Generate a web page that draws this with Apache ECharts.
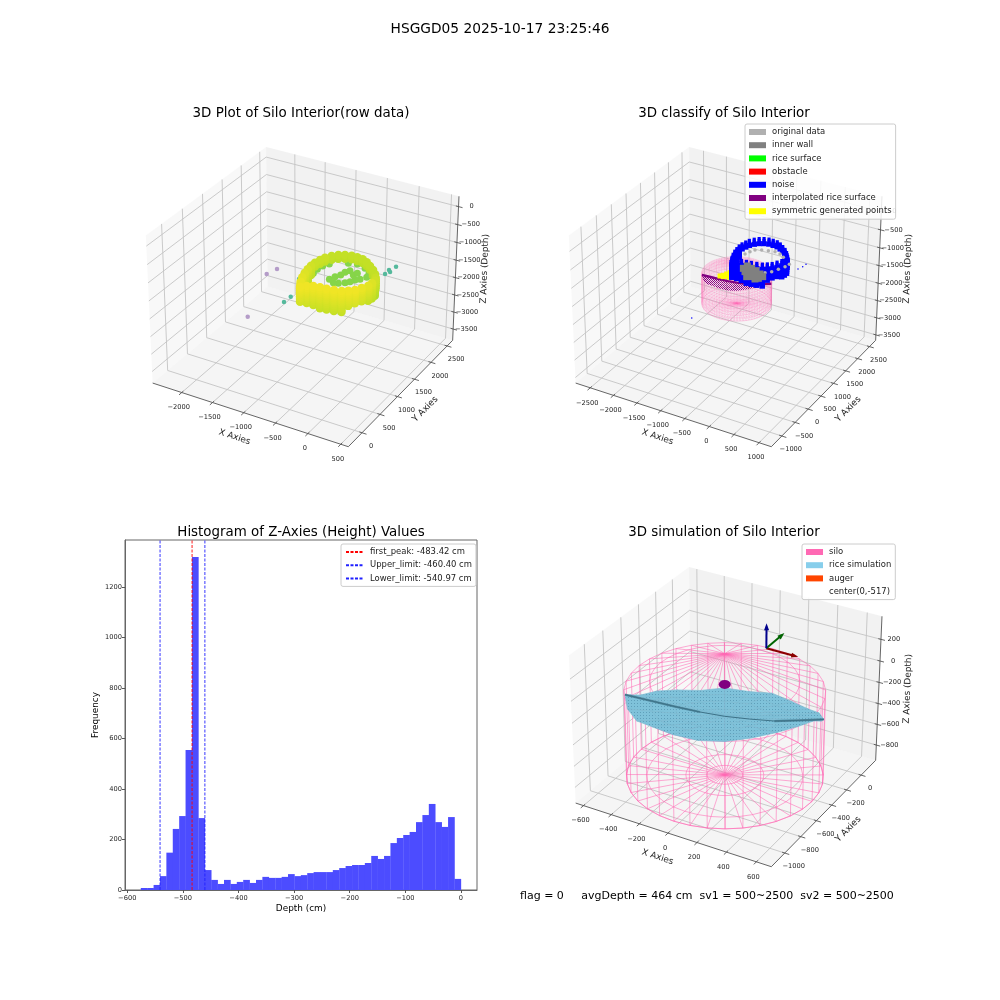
<!DOCTYPE html>
<html>
<head>
<meta charset="utf-8">
<style>html,body{margin:0;padding:0;background:#fff}#chart{width:1000px;height:1000px}</style>
<script src="https://cdn.jsdelivr.net/npm/echarts@6/dist/echarts.min.js"></script>
</head>
<body>
<div id="chart"></div>
<script>
// histogram values
const binCenters = [-569.6,-558.1,-546.6,-535.1,-523.6,-512.1,-500.6,-489.1,-477.6,-466.0,-454.5,-443.0,-431.5,-420.0,-408.5,-397.0,-385.5,-374.0,-362.5,-351.0,-339.5,-327.9,-316.4,-304.9,-293.4,-281.9,-270.4,-258.9,-247.4,-235.9,-224.4,-212.9,-201.4,-189.8,-178.3,-166.8,-155.3,-143.8,-132.3,-120.8,-109.3,-97.8,-86.3,-74.8,-63.3,-51.8,-40.2,-28.7,-17.2,-5.7];
const binCounts = [8,8,20,55,148,242,293,555,1320,285,79,40,24,40,24,32,40,28,40,52,48,48,52,63,55,59,67,71,71,71,79,87,95,99,99,107,135,123,135,186,206,218,230,269,297,341,269,250,289,44];
const histXTicks = [-600,-500,-400,-300,-200,-100,0];
const histYTicks = [0,200,400,600,800,1000,1200];
const firstPeak = -483.42, upperLimit = -460.40, lowerLimit = -540.97;

// axis limits and ticks of the three 3D plots
const rawLimits = [[-2480,614],[-370,2675],[-3836,284]];
const rawXTicks = [-2000,-1500,-1000,-500,0,500];
const rawYTicks = [0,500,1000,1500,2000,2500];
const rawZTicks = [0,-500,-1000,-1500,-2000,-2500,-3000,-3500];
const classLimits = [[-2817,1243],[-1386,2766],[-3660,420]];
const classXTicks = [-2500,-2000,-1500,-1000,-500,0,500,1000];
const classYTicks = [-1000,-500,0,500,1000,1500,2000,2500];
const classZTicks = [0,-500,-1000,-1500,-2000,-2500,-3000,-3500];
const simLimits = [[-657,699],[-1163,205],[-950,410]];
const simXTicks = [-600,-400,-200,0,200,400,600];
const simYTicks = [-1000,-800,-600,-400,-200,0];
const simZTicks = [200,0,-200,-400,-600,-800];

// raw scan: rim of the grain ring (x, y), how deep its wall goes, colour position
const rimX = [-168,-226,-264,-294,-309,-320,-315,-293,-268,-214,-151,-75,10,96,183,267,351,436,512,561,591,590,578,533,483,418,348,251,153,62,-29,-103];
const rimY = [-285,-171,-64,48,149,254,348,442,528,610,677,720,748,745,733,689,625,553,466,395,323,244,168,74,-12,-68,-118,-144,-161,-173,-186,-228];
const rimDepth = [-400,-500,-550,-600,-650,-250,-100,-100,-100,-100,-100,-100,-100,-100,-100,-100,-100,-150,-200,-300,-400,-400,-400,-350,-350,-400,-550,-550,-550,-550,-500,-450];
const rimTone = [.98,.97,.96,.95,.94,.93,.92,.92,.92,.91,.91,.91,.91,.91,.91,.91,.91,.91,.91,.92,.93,.95,.96,.97,.98,.98,.98,.98,.98,.98,.98,.98];
const wallLevels = [-650,-600,-550,-500,-450,-400,-350,-300,-250,-200,-150,-100,-50,0];
const floorX = [-341,-348,-332,-282,-72,40,184,293,317,267,219,183,140,73,8,-80,-51,-8,7,42,136,160];
const floorY = [351,468,580,669,809,852,801,711,604,515,467,398,343,285,268,318,415,489,578,649,571,635];
const floorZ = -300;
const strayX = [-857,-1224,-1174,-640,-633,-776,164,159,197,199];
const strayY = [-456,619,805,99,260,718,1408,1530,1489,1657];
const strayZ = -1000;
const strayPurple = [1,1,1,0,0,0,0,0,0,0];

// classified scan
const noiseX = [-450,321,354,364], noiseY = [-1195,1289,1408,1518], noiseZ = -1000;
const wallX = [-215,-196,-88,19,137,224,187,83,-39,-131,-55,62,-106,141,148,-18];
const wallY = [218,329,293,257,187,127,36,44,83,127,172,143,240,120,-15,-16];
const greenX = [-203,-123,-32,78,165,231,-207,38];
const greenY = [15,-8,-52,-70,-46,-8,82,-94];
const yellowX = [-433,-395,-368,-341,-298,-242,-268,-322,-371,-220,-268];
const yellowY = [-233,-183,-111,-39,28,-36,-108,-168,-224,-135,-192];
const scanLayerZ = -500;
const greyBackX = [-314,-280,-233,-131,-16,104,221,330];
const greyBackY = [456,577,677,737,776,803,772,693];
const greyBackZ = -300;
const greyFrontX = [101,190,274,335,391,417];
const greyFrontY = [194,275,366,501,647,761];

// silo and simulated grain surface
const siloCenterY = -517, siloRadius = 606;
const siloBottom = -860, siloEave = -60, siloApex = 270;
const classSiloX = 60, simSiloX = 18;
const siloAngles = [0,10,20,30,40,50,60,70,80,90,100,110,120,130,140,150,160,170,180,190,200,210,220,230,240,250,260,270,280,290,300,310,320,330,340,350];
const riceAngles = [0,15,30,45,60,75,90,105,120,135,150,165,180,195,210,225,240,255,270,285,300,315,330,345];
const riceRadii = [150,300,450,600];
const riceCenterZ = -300;
const riceZ150 = [-269,-285,-300,-330,-345,-352,-348,-352,-350,-347,-340,-325,-310,-285,-266,-270,-270,-262,-258,-262,-258,-255,-255,-262];
const riceZ300 = [-218,-262,-300,-345,-380,-392,-382,-398,-390,-385,-370,-340,-310,-262,-213,-220,-220,-205,-198,-205,-198,-192,-192,-205];
const riceZ450 = [-166,-240,-305,-375,-425,-445,-432,-455,-440,-435,-415,-370,-315,-240,-160,-170,-170,-140,-130,-140,-130,-120,-120,-140];
const riceZ600 = [-115,-225,-332,-392,-465,-490,-480,-510,-490,-500,-450,-390,-335,-225,-106,-118,-116,-72,-68,-72,-65,-48,-46,-68];
const creaseX = [-520,-390,-260,-130,0,130,260,390,520];
const creaseY = [-817,-742,-667,-592,-517,-442,-367,-292,-217];
const creaseZ = [-106,-160,-215,-265,-305,-330,-348,-342,-332];
const augerPoint = [18,-517,-10];
const arrowOrigin = [18,0,0], arrowLength = 200;

const PINK = '#ff69b4', FONT = '"DejaVu Sans", sans-serif';

// matplotlib's camera for elev 30, azim -60 and its 4:4:3 box
const BOX = [1.1429,1.1429,0.8572], CAM_U = [.866025,.5,0], CAM_N = [.433013,-.75,.5], CAM_V = [-.25,.433013,.866025];
function project(lim, p) {
  const q = [0,1,2].map(i => ((p[i]-lim[i][0])/(lim[i][1]-lim[i][0])-.5)*BOX[i]);
  const dot = a => a[0]*q[0]+a[1]*q[1]+a[2]*q[2];
  const w = 10-dot(CAM_N);
  return [dot(CAM_U)/w, dot(CAM_V)/w];
}

const option = {
  animation: false,
  backgroundColor: '#fff',
  title: [
    ['HSGGD05 2025-10-17 23:25:46',500,22,13.75],
    ['3D Plot of Silo Interior(row data)',301,107,13.45],
    ['3D classify of Silo Interior',724,107,13.45],
    ['Histogram of Z-Axies (Height) Values',301,526,13.4],
    ['3D simulation of Silo Interior',724,526,13.4]
  ].map(t => ({text:t[0],left:t[1],top:t[2],textAlign:'center',padding:0,
    textStyle:{fontFamily:FONT,fontSize:t[3],fontWeight:'normal',color:'#000'}})),
  grid: [
    {left:125,top:120,width:352,height:350},
    {left:548,top:120,width:352,height:350},
    {left:125,top:540,width:352,height:350,show:true,borderColor:'#666',borderWidth:1},
    {left:548,top:540,width:352,height:350}
  ],
  xAxis: [0,1,3].map(g => ({type:'value',gridIndex:g,min:-.0919,max:.0875,show:false})),
  yAxis: [0,1,3].map(g => ({type:'value',gridIndex:g,min:-.0917,max:.0866,show:false})),
  series: [],
  legend: [],
  graphic: [{type:'text',left:520,top:891,silent:true,
    style:{text:'flag = 0     avgDepth = 464 cm  sv1 = 500~2500  sv2 = 500~2500',fontFamily:FONT,fontSize:11,fill:'#000'}}]
};

// histogram axes come after the three hidden pairs
option.xAxis.push({type:'value',gridIndex:2,min:-604,max:28.8,name:'Depth (cm)',nameLocation:'middle',nameGap:14,
  nameTextStyle:{fontFamily:FONT,fontSize:8.9,color:'#000'},
  axisLine:{onZero:false,lineStyle:{color:'#666'}},splitLine:{show:false},
  axisTick:{length:3,lineStyle:{color:'#555'},customValues:histXTicks},
  axisLabel:{fontFamily:FONT,fontSize:6.67,color:'#222',margin:5,customValues:histXTicks,formatter:v=>String(v).replace('-','\u2212')}});
option.yAxis.push({type:'value',gridIndex:2,min:0,max:1387,name:'Frequency',nameLocation:'middle',nameGap:25,
  nameTextStyle:{fontFamily:FONT,fontSize:8.9,color:'#000'},
  axisLine:{onZero:false,lineStyle:{color:'#666'}},splitLine:{show:false},
  axisTick:{length:3,lineStyle:{color:'#555'},customValues:histYTicks},
  axisLabel:{fontFamily:FONT,fontSize:6.67,color:'#222',margin:3,customValues:histYTicks,formatter:v=>String(v)}});
option.series.push({type:'bar',name:'counts',xAxisIndex:3,yAxisIndex:3,barWidth:6.7,
  itemStyle:{color:'#4c4cff'},silent:true,data:binCenters.map((x,i)=>[x,binCounts[i]])});
[['first_peak: -483.42 cm',firstPeak,'#ff0000'],['Upper_limit: -460.40 cm',upperLimit,'#2020ff'],['Lower_limit: -540.97 cm',lowerLimit,'#2020ff']].forEach(l => {
  option.series.push({type:'line',name:l[0],xAxisIndex:3,yAxisIndex:3,symbol:'none',silent:true,z:5,
    itemStyle:{color:l[2]},lineStyle:{color:l[2],width:.9,type:[3,1.5]},data:[[l[1],0],[l[1],1387]]});
});

// custom series drawing polylines that were projected from data space
function wireSeries(name, ai, wires, stroke, width, z, opacity) {
  return {type:'custom',name,xAxisIndex:ai,yAxisIndex:ai,coordinateSystem:'cartesian2d',clip:false,silent:true,z:z||2,
    itemStyle:{color:stroke},
    data:wires.map((w,i)=>[w[0][0],w[0][1],i]),
    renderItem:(p,api)=>({type:'polyline',silent:true,
      shape:{points:wires[api.value(2)].map(q=>api.coord(q))},
      style:{stroke,lineWidth:width,fill:null,opacity:opacity==null?1:opacity}})};
}
function polySeries(name, ai, polys, fills, legendColor, z, strokes) {
  return {type:'custom',name,xAxisIndex:ai,yAxisIndex:ai,coordinateSystem:'cartesian2d',clip:false,silent:true,z:z||1,
    itemStyle:{color:legendColor},
    data:polys.map((w,i)=>[w[0][0],w[0][1],i]),
    renderItem:(p,api)=>({type:'polygon',silent:true,
      shape:{points:polys[api.value(2)].map(q=>api.coord(q))},
      style:{fill:fills[api.value(2)],stroke:strokes?strokes:null,lineWidth:strokes?.6:0}})};
}
function textSeries(ai, labels) {
  return {type:'custom',name:'labels'+ai,xAxisIndex:ai,yAxisIndex:ai,coordinateSystem:'cartesian2d',clip:false,silent:true,z:3,
    data:labels.map((l,i)=>[l.at[0],l.at[1],i]),
    renderItem:(p,api)=>{const l=labels[api.value(2)],c=api.coord(l.at);
      return {type:'text',silent:true,x:c[0]+l.dx,y:c[1]+l.dy,rotation:(l.rot||0)*Math.PI/180,
        style:{text:l.text,fontFamily:FONT,fontSize:l.size,fill:'#222',align:'center',verticalAlign:'middle'}};}};
}
const minusSign = v => String(v).replace('-','\u2212');

// panes, grid lines, axis lines, ticks and their labels for one 3D plot
function addFrame(ai, lim, xt, yt, zt) {
  const [[x0,x1],[y0,y1],[z0,z1]] = lim;
  const P = (x,y,z) => project(lim,[x,y,z]);
  const dx=(x1-x0)*.022, dy=(y1-y0)*.022;
  option.series.push(polySeries('panes'+ai,ai,[
    [P(x0,y0,z0),P(x0,y1,z0),P(x0,y1,z1),P(x0,y0,z1)],
    [P(x0,y1,z0),P(x1,y1,z0),P(x1,y1,z1),P(x0,y1,z1)],
    [P(x0,y0,z0),P(x1,y0,z0),P(x1,y1,z0),P(x0,y1,z0)]
  ],['rgba(242,242,242,.5)','rgba(230,230,230,.5)','rgba(236,236,236,.5)'],'#eee',1));
  const grid=[], axes=[[P(x0,y0,z0),P(x1,y0,z0)],[P(x1,y0,z0),P(x1,y1,z0)],[P(x1,y1,z0),P(x1,y1,z1)]], ticks=[], labels=[];
  xt.forEach(v=>{grid.push([P(v,y0,z0),P(v,y1,z0),P(v,y1,z1)]);ticks.push([P(v,y0-dy,z0),P(v,y0+dy*.6,z0)]);
    labels.push({at:P(v,y0,z0),dx:-3,dy:15,text:minusSign(v),size:6.67});});
  yt.forEach(v=>{grid.push([P(x1,v,z0),P(x0,v,z0),P(x0,v,z1)]);ticks.push([P(x1+dx,v,z0),P(x1-dx*.6,v,z0)]);
    labels.push({at:P(x1,v,z0),dx:9,dy:13.5,text:minusSign(v),size:6.67});});
  zt.forEach(v=>{grid.push([P(x1,y1,v),P(x0,y1,v),P(x0,y0,v)]);ticks.push([P(x1+dx*.9,y1,v),P(x1-dx*.6,y1,v)]);
    labels.push({at:P(x1,y1,v),dx:13,dy:0,text:minusSign(v),size:6.67});});
  labels.push({at:P((x0+x1)/2,y0,z0),dx:-13.5,dy:23,text:'X Axies',size:8.9,rot:-18});
  labels.push({at:P(x1,(y0+y1)/2,z0),dx:22.5,dy:18,text:'Y Axies',size:8.9,rot:45});
  labels.push({at:P(x1,y1,(z0+z1)/2),dx:29,dy:-1,text:'Z Axies (Depth)',size:8.9,rot:88});
  option.series.push(wireSeries('grid'+ai,ai,grid,'#c4c4c4',.9,1.5));
  option.series.push(wireSeries('axes'+ai,ai,axes,'#555',.9,1.6));
  option.series.push(wireSeries('ticks'+ai,ai,ticks,'#555',.9,1.6));
  option.series.push(textSeries(ai,labels));
}
addFrame(0,rawLimits,rawXTicks,rawYTicks,rawZTicks);
addFrame(1,classLimits,classXTicks,classYTicks,classZTicks);
addFrame(2,simLimits,simXTicks,simYTicks,simZTicks);

function scatter(name, ai, pts, color, size, z, shape) {
  return {type:'scatter',name,xAxisIndex:ai,yAxisIndex:ai,silent:true,z:z,symbol:shape||'circle',symbolSize:size,
    itemStyle:{color,opacity:1},data:pts};
}

// --- plot 1: raw scan
const viridisTail = t => echarts.color.lerp(Math.max(0,Math.min(1,(t-.8)/.2)),['#7ad151','#bddf26','#fde725']);
function rimPoints() {
  const out=[];
  rimX.forEach((x,i)=>wallLevels.forEach(z=>{ if(z>=rimDepth[i]) out.push({x,y:rimY[i],z,i}); }));
  out.sort((a,b)=>(b.y-b.x*.577)-(a.y-a.x*.577));
  return out;
}
option.series.push(scatter('stray',0,strayX.map((x,i)=>({value:project(rawLimits,[x,strayY[i],strayZ]),
  itemStyle:{color:strayPurple[i]?'#b49cc8':'#55b99c'}})),'#55b99c',4.5,4));
option.series.push(scatter('floor',0,floorX.map((x,i)=>project(rawLimits,[x,floorY[i],floorZ])),'#86d549',7,4));
option.series.push(scatter('rim',0,rimPoints().map(p=>({value:project(rawLimits,[p.x,p.y,p.z]),
  itemStyle:{color:viridisTail(rimTone[p.i]+p.z*.00012)}})),'#d8e219',8.5,5));

// --- plot 2: classified scan, same ring with the small silo beside it
function siloWires(lim, shiftX, angles, bottomRings, sideLevels, roofRings) {
  const P=(r,t,z)=>project(lim,[shiftX+r*Math.cos(t*Math.PI/180),siloCenterY+r*Math.sin(t*Math.PI/180),z]);
  const wires=[], circle=[...angles,angles[0]];
  bottomRings.forEach(r=>wires.push(circle.map(t=>P(r,t,siloBottom))));
  sideLevels.forEach(z=>wires.push(circle.map(t=>P(siloRadius,t,z))));
  roofRings.forEach(r=>wires.push(circle.map(t=>P(r,t,siloEave+(siloApex-siloEave)*(1-r/siloRadius)))));
  angles.forEach(t=>wires.push([P(0,t,siloBottom),P(siloRadius,t,siloBottom),P(siloRadius,t,siloEave),P(0,t,siloApex)]));
  return wires;
}
const fineAngles = Array.from({length:72},(_,i)=>i*5);
option.series.push(wireSeries('silo frame',1,
  siloWires(classLimits,classSiloX,fineAngles,[606,540,480,420,360,300,240,180,120,60],[-860,-780,-700,-620,-540,-460,-380,-300,-220,-140,-60],[480,360,240,120]),PINK,.4,2,.45));
// rice surface of plot 2: only the front half was interpolated, hatched like its dense points
const riceRows = [riceZ150,riceZ300,riceZ450,riceZ600];
const ricePoint = (lim,shiftX,k,j) => { const t=riceAngles[j%24]*Math.PI/180, r=k<0?0:riceRadii[k];
  return project(lim,[shiftX+r*Math.cos(t),siloCenterY+r*Math.sin(t),k<0?riceCenterZ:riceRows[k][j%24]]); };
const hatch = document.createElement('canvas');
hatch.width = hatch.height = 2;
{ const c = hatch.getContext('2d');
  c.fillStyle = '#800080'; c.fillRect(0,0,1,1); c.fillRect(1,1,1,1); }
const hatchFill = {image:hatch,repeat:'repeat'};
const halfCells=[];
riceAngles.forEach((t,j)=>{ if(t>=210||t<30){
  halfCells.push([ricePoint(classLimits,classSiloX,-1,j),ricePoint(classLimits,classSiloX,0,j),ricePoint(classLimits,classSiloX,0,j+1)]);
  for(let k=0;k<3;k++) halfCells.push([ricePoint(classLimits,classSiloX,k,j),ricePoint(classLimits,classSiloX,k+1,j),ricePoint(classLimits,classSiloX,k+1,j+1),ricePoint(classLimits,classSiloX,k,j+1)]);
}});
option.series.push(polySeries('interpolated rice surface',1,halfCells,halfCells.map(()=>hatchFill),'#800080',3));
option.series.push(wireSeries('crease2',1,[creaseX.map((x,i)=>project(classLimits,[x+classSiloX,creaseY[i],creaseZ[i]]))],'#800080',2.4,3));
option.series.push(scatter('symmetric generated points',1,yellowX.map((x,i)=>project(classLimits,[x,yellowY[i],scanLayerZ])),'#ffff00',5,4,'rect'));
option.series.push(scatter('rice surface',1,greenX.map((x,i)=>project(classLimits,[x,greenY[i],scanLayerZ])),'#00ff00',3,4));
option.series.push(scatter('obstacle',1,[],'#ff0000',2,4));
option.series.push(scatter('noise',1,rimPoints().map(p=>({value:project(classLimits,[p.x,p.y,p.z]),symbolSize:p.z<=-100?[5.5,5]:[3.2,6]})),'#0000ff',[3,6],5,'rect'));
option.series.push(scatter('original data',1,greyBackX.map((x,i)=>project(classLimits,[x,greyBackY[i],greyBackZ]))
  .concat(greyFrontX.map((x,i)=>project(classLimits,[x,greyFrontY[i],scanLayerZ]))),'#b0b0b0',3.5,6));
option.series.push(scatter('inner wall',1,wallX.map((x,i)=>project(classLimits,[x,wallY[i],scanLayerZ])),'#808080',7,6,'rect'));
option.series.push(scatter('noise points',1,noiseX.map((x,i)=>project(classLimits,[x,noiseY[i],noiseZ])),'#0000ff',1.5,6));

// --- plot 3: simulation
option.series.push(wireSeries('silo',2,siloWires(simLimits,simSiloX,siloAngles,[606,480,240,110],[siloBottom,siloEave],[450]),PINK,.8,2,.7));
const ricePattern = document.createElement('canvas');
ricePattern.width = ricePattern.height = 3;
{ const c = ricePattern.getContext('2d');
  c.fillStyle = '#7fc2da'; c.fillRect(0,0,3,3);
  c.fillStyle = '#5f9fba'; c.fillRect(1,1,1,1); }
const riceCells=[];
riceAngles.forEach((t,j)=>{ riceCells.push([ricePoint(simLimits,simSiloX,-1,j),ricePoint(simLimits,simSiloX,0,j),ricePoint(simLimits,simSiloX,0,j+1)]);
  for(let k=0;k<3;k++) riceCells.push([ricePoint(simLimits,simSiloX,k,j),ricePoint(simLimits,simSiloX,k+1,j),ricePoint(simLimits,simSiloX,k+1,j+1),ricePoint(simLimits,simSiloX,k,j+1)]); });
const ricePatternFill = {image:ricePattern,repeat:'repeat'};
option.series.push(polySeries('rice simulation',2,riceCells,riceCells.map(()=>ricePatternFill),'#87ceeb',3,'#78b8d0'));
const creaseLine = creaseX.map((x,i)=>project(simLimits,[x+simSiloX,creaseY[i],creaseZ[i]]));
option.series.push(wireSeries('crease',2,[creaseLine],'#3d7288',1,4));
// the fold reads darker and wider toward both tips of the surface
option.series.push(wireSeries('crease ends',2,[creaseLine.slice(0,4),creaseLine.slice(6)],'#3d7288',2.2,4,.7));
option.series.push(scatter('auger',2,[],'#ff4500',2,5));
option.series.push(scatter('center(0,-517)',2,[],'#ffffff',2,5));
option.series.push(scatter('auger ball',2,[project(simLimits,augerPoint)],'#800080',[12,9],5));
const arrowTips = [[[arrowOrigin[0]+arrowLength,0,0],'#8b0000',-103],[[arrowOrigin[0],arrowLength,0],'#006400',-49],[[arrowOrigin[0],0,arrowLength],'#00008b',0]];
arrowTips.forEach((a,i)=>{
  option.series.push(wireSeries('arrow'+i,2,[[project(simLimits,arrowOrigin),project(simLimits,a[0])]],a[1],2,6));
  option.series.push(Object.assign(scatter('arrow head'+i,2,[project(simLimits,a[0])],a[1],[5,7],6,'triangle'),{symbolRotate:a[2]}));
});

// legends
const legendBase = {orient:'vertical',icon:'rect',itemWidth:17,itemHeight:6,itemGap:5.2,selectedMode:false,
  backgroundColor:'rgba(255,255,255,.85)',borderColor:'#ccc',borderWidth:1,borderRadius:2,padding:[4,4,4,4],z:20,
  textStyle:{fontFamily:FONT,fontSize:8.45,color:'#222',padding:[0,0,0,1]}};
option.legend.push(Object.assign({},legendBase,{left:745,top:124,
  data:['original data','inner wall','rice surface','obstacle','noise','interpolated rice surface','symmetric generated points']}));
option.legend.push(Object.assign({},legendBase,{left:802,top:544,
  data:['silo','rice simulation','auger','center(0,-517)']}));
const histLegend = Object.assign({},legendBase,{left:341,top:544,itemWidth:18,itemStyle:{opacity:0},
  data:['first_peak: -483.42 cm','Upper_limit: -460.40 cm','Lower_limit: -540.97 cm']});
delete histLegend.icon;
option.legend.push(histLegend);

const myChart = echarts.init(document.getElementById('chart'), null, {renderer:'canvas'});
myChart.setOption(option);
</script>
</body>
</html>
